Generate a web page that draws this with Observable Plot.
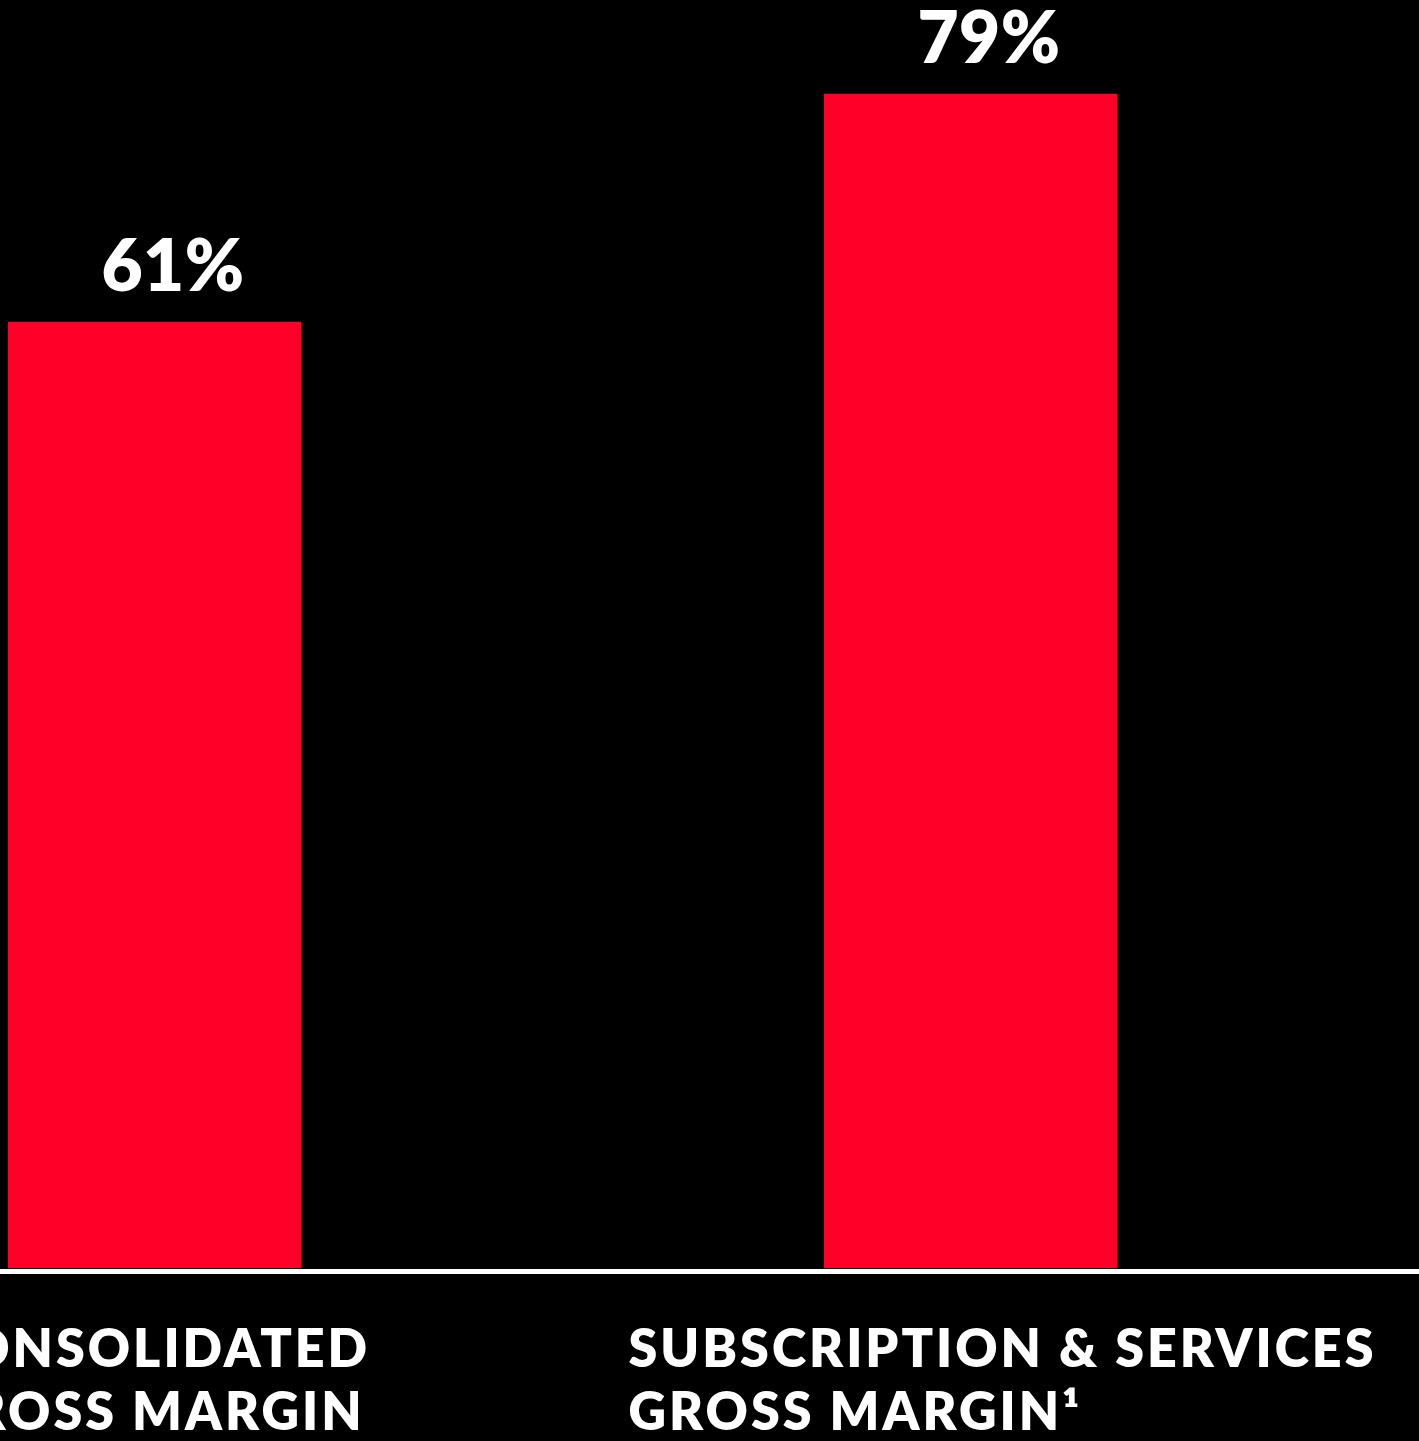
<!DOCTYPE html>
<html><head><meta charset="utf-8">
<script src="https://cdn.jsdelivr.net/npm/d3@7"></script>
<script src="https://cdn.jsdelivr.net/npm/@observablehq/plot@0.6"></script>
<style>
html,body{margin:0;padding:0;background:#000;overflow:hidden;}
#chart{width:1419px;height:1441px;}
#chart svg g[font-size="52"] text{letter-spacing:3px;}
#chart svg g[font-size="71"] text{letter-spacing:0.5px;}
</style></head><body><div id="chart"></div>
<script>
const categories = ["CONSOLIDATED\nGROSS MARGIN", "SUBSCRIPTION & SERVICES\nGROSS MARGIN\u00B9"];
const values = [61, 79];
const valueLabels = ["61%", "79%"];
// the reference chart's bar floor sits below zero (bars are not zero-based)
const yFloor = -13.7;
const yTop = 86.4;

const data = categories.map((c, i) => ({category: c, value: values[i], label: valueLabels[i]}));
const red = "#ff0029";
const font = "Lato, 'Open Sans', sans-serif";

const plot = Plot.plot({
  width: 1419, height: 1441,
  marginLeft: 0, marginRight: 0, marginTop: 0, marginBottom: 173,
  style: {background: "#000", color: "#fff", overflow: "visible"},
  x: {type: "band", domain: categories, range: [-253.5, 1378.5], paddingInner: 0.641, paddingOuter: 0.3205, axis: null},
  y: {domain: [yFloor, yTop], axis: null},
  marks: [
    Plot.barY(data, {x: "category", y1: yFloor, y2: "value", fill: red}),
    Plot.ruleY([yFloor], {stroke: "#fff", strokeWidth: 5, dy: 3}),
    Plot.text(data, {x: "category", y: "value", text: "label", lineAnchor: "bottom", dy: -31, dx: 18,
      fill: "#fff", fontSize: 71, fontWeight: 800, fontFamily: font}),
    Plot.text(data.slice(0, 1), {x: "category", y: yFloor, text: "category", textAnchor: "start", lineAnchor: "top",
      dy: 53, dx: -224, lineHeight: 1.22, fill: "#fff", fontSize: 52, fontWeight: 800, fontFamily: font}),
    Plot.text(data.slice(1, 2), {x: "category", y: yFloor, text: "category", textAnchor: "start", lineAnchor: "top",
      dy: 53, dx: -342.5, lineHeight: 1.22, fill: "#fff", fontSize: 52, fontWeight: 800, fontFamily: font})
  ]
});
document.getElementById("chart").appendChild(plot);
</script></body></html>
